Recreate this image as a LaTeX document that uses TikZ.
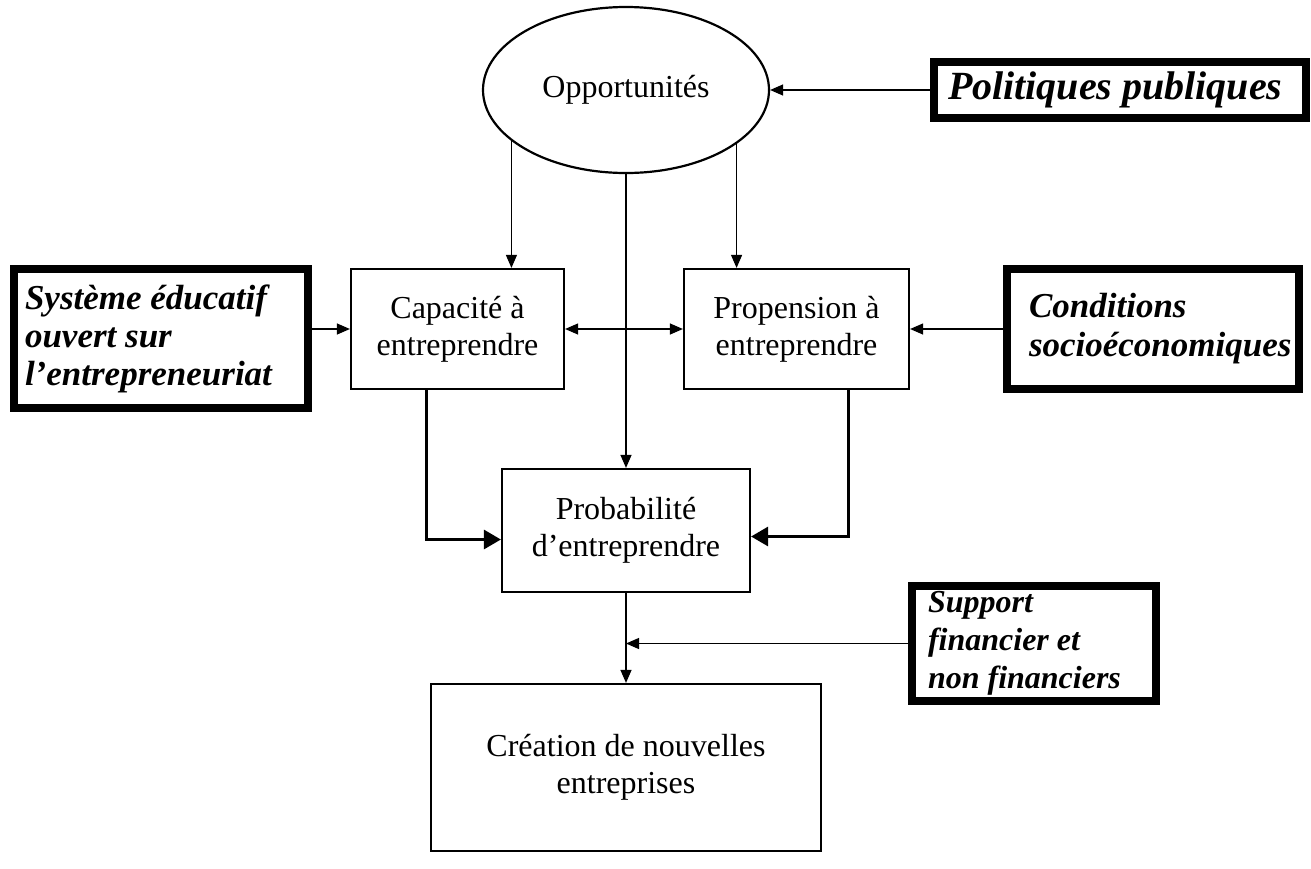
\documentclass[tikz,border=0pt]{standalone}
\usepackage{fontspec}
\setmainfont{Liberation Serif}
\usetikzlibrary{arrows.meta,shapes.geometric}
\begin{document}
\begin{tikzpicture}[x=1pt,y=-1pt,
  txt/.style={font=\fontsize{32}{37}\selectfont},
  box/.style={txt,draw,line width=2.2pt,align=center,inner sep=0pt},
  ext/.style={draw,line width=8pt,align=left,inner ysep=0pt,
    execute at begin node={\spaceskip=0.25em\relax\hyphenpenalty=10000\relax}},
  conn/.style={line width=1.2pt,-{Triangle[length=13pt,width=11pt]}},
  bigconn/.style={line width=3pt,-{Triangle[length=17pt,width=19pt]}}]
\useasboundingbox (0,0) rectangle (1311,868);

\node[txt,draw,line width=2.2pt,ellipse,inner sep=0pt,minimum width=286pt,minimum height=166pt] (opp) at (626,90) {Opportunités};
\node[ext,font=\fontsize{40}{45}\selectfont\bfseries\itshape,inner xsep=14pt,text width=344pt,minimum height=56pt] (pol) at (1120,90) {Politiques publiques};

\node[ext,font=\fontsize{35}{38}\selectfont\bfseries\itshape,inner xsep=11pt,text width=272pt,minimum height=139pt] (sys) at (161,338.5) {Système éducatif\\ouvert sur\\l’entrepreneuriat};
\node[box,minimum width=213pt,minimum height=120pt] (cap) at (457.5,329) {Capacité à\\entreprendre};
\node[box,minimum width=225pt,minimum height=120pt] (prop) at (796.5,329) {Propension à\\entreprendre};
\node[ext,font=\fontsize{35}{39}\selectfont\bfseries\itshape,inner xsep=22pt,text width=248pt,minimum height=120pt] (cond) at (1153,329) {Conditions\\socioéconomiques};

\node[box,minimum width=248pt,minimum height=123pt] (prob) at (626,530.5) {Probabilité\\d’entreprendre};
\node[ext,font=\fontsize{32}{38}\selectfont\bfseries\itshape,inner xsep=16pt,text width=212pt,minimum height=115pt] (sup) at (1034,643.5) {Support\\financier et\\non financiers};
\node[box,minimum width=390pt,minimum height=167pt] (crea) at (626,767.5) {Création de nouvelles\\entreprises};

\draw[conn] (pol) -- (opp);
\draw[conn] (opp.204) -- (opp.204 |- cap.north);
\draw[conn] (opp.334.5) -- (opp.334.5 |- prop.north);
\draw[conn] (opp.south) -- (prob.north);
\draw[conn] (sys.east |- cap.west) -- (cap.west);
\draw[conn,{Triangle[length=13pt,width=11pt]}-{Triangle[length=13pt,width=11pt]}] (cap.east) -- (prop.west);
\draw[conn] (cond.west) -- (prop.east);
\draw[bigconn] ([xshift=-31.5pt]cap.south) |- ([yshift=-9pt]prob.west);
\draw[bigconn] ([xshift=51.5pt]prop.south) |- ([yshift=-6pt]prob.east);
\draw[conn] (prob.south) -- (crea.north);
\coordinate (j) at (sup.west -| prob.south);
\draw[conn] (sup.west) -- (j);
\end{tikzpicture}
\end{document}
